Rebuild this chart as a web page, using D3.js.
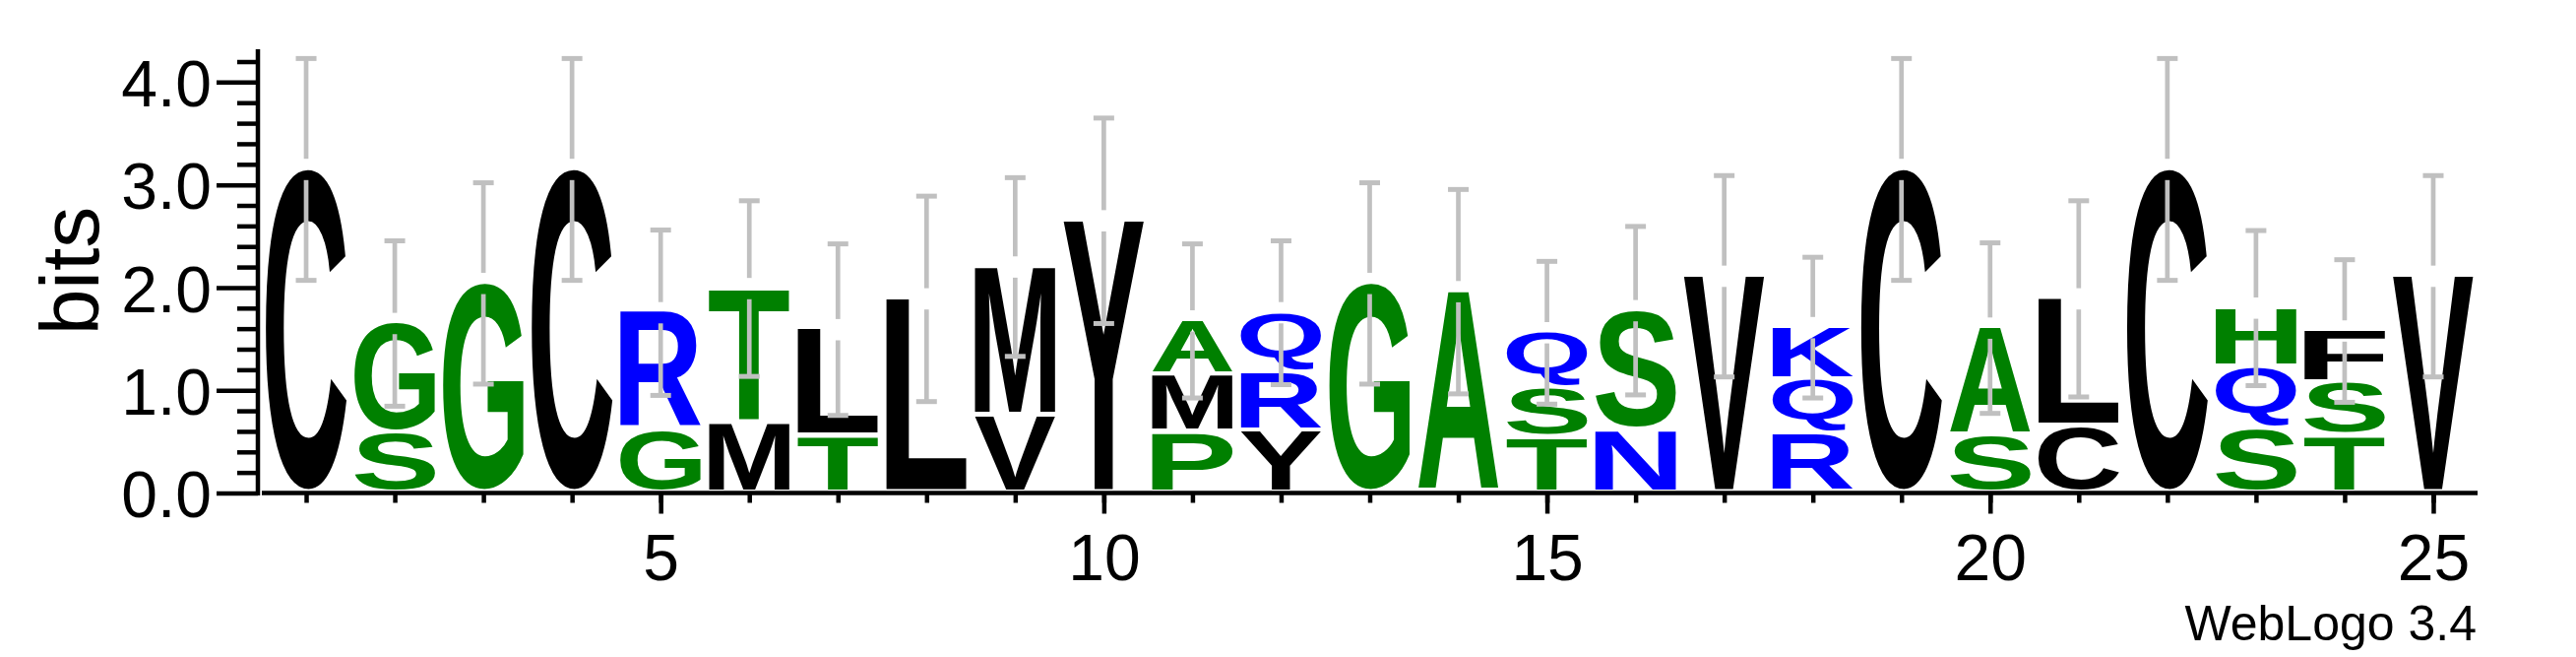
<!DOCTYPE html>
<html>
<head>
<meta charset="utf-8">
<script src="https://cdn.jsdelivr.net/npm/d3@7"></script>
<style>
  body { margin: 0; background: #fff; }
  svg { display: block; background: #fff; }
  text { font-family: "Liberation Sans", Arial, Helvetica, sans-serif; }
</style>
</head>
<body>
<svg id="logo" width="2617" height="667"></svg>
<script>
// letters of each stack, bottom to top
const stackLetters = [
  ["C"], ["S", "G"], ["G"], ["C"], ["G", "R"],
  ["M", "T"], ["T", "L"], ["L"], ["V", "M"], ["Y"],
  ["P", "M", "A"], ["Y", "R", "Q"], ["G"], ["A"], ["T", "S", "Q"],
  ["N", "S"], ["V"], ["R", "Q", "K"], ["C"], ["S", "A"],
  ["C", "L"], ["C"], ["S", "Q", "H"], ["T", "S", "F"], ["V"],
];
// height (bits) of each letter, same order
const stackBits = [
  [3.15], [0.575, 1.075], [2.04], [3.15], [0.61, 1.145],
  [0.685, 1.305], [0.547, 1.043], [1.89], [0.75, 1.45], [2.65],
  [0.585, 0.555, 0.535], [0.6, 0.575, 0.58], [2.04], [1.96], [0.535, 0.48, 0.545],
  [0.61, 1.165], [2.11], [0.565, 0.535, 0.51], [3.15], [0.555, 1.05],
  [0.65, 1.24], [3.15], [0.625, 0.6, 0.575], [0.55, 0.52, 0.507], [2.11],
];
// half length of the error bar on top of each stack
const errorBits = [
  1.08, 0.805, 0.98, 1.08, 0.805,
  0.855, 0.835, 1.0, 0.87, 1.0,
  0.75, 0.7, 0.98, 0.995, 0.695,
  0.82, 0.98, 0.685, 1.08, 0.83,
  0.955, 1.08, 0.755, 0.694, 0.98,
];
const greenLetters = ["G", "S", "T", "A", "P", "H"];
const blueLetters = ["R", "Q", "N", "K"];
const blackLetters = ["C", "M", "L", "V", "Y", "F"];
const xTickLabels = [5, 10, 15, 20, 25];
const yTickValues = [0, 1, 2, 3, 4];
const yTickLabels = ["0.0", "1.0", "2.0", "3.0", "4.0"];

const positions = stackLetters.map((_, i) => i + 1);
const yMinorTicks = d3.range(1, 22).map((k) => k / 5).filter((v) => v % 1 !== 0);

function letterColor(ch) {
  if (greenLetters.includes(ch)) return "#008000";
  if (blueLetters.includes(ch)) return "#0000ff";
  return "#000000";
}

const svg = d3.select("#logo");
const x = d3.scaleLinear().domain([0.5, 25.5]).range([266, 2517]);
const y = d3.scaleLinear().domain([0, 4.32]).range([500.5, 50]);
const letterWidth = 82;
const barGray = "#c0c0c0";

// glyph ink bounds, so each letter fills its box like WebLogo does
const glyphFont = "bold 200px 'Liberation Sans'";
const ctx = document.createElement("canvas").getContext("2d");
ctx.font = glyphFont;
function inkBox(ch) {
  const m = ctx.measureText(ch);
  return {
    l: m.actualBoundingBoxLeft,
    r: m.actualBoundingBoxRight,
    a: m.actualBoundingBoxAscent,
    d: m.actualBoundingBoxDescent,
  };
}

const stacks = positions.map((pos, i) => {
  let base = 0;
  const letters = stackLetters[i].map((ch, j) => {
    const bottom = base;
    base += stackBits[i][j];
    return { ch, bottom, top: base };
  });
  return { pos, letters, total: base, err: errorBits[i] };
});

const lettersLayer = svg.append("g").attr("class", "letters");
stacks.forEach((s) => {
  s.letters.forEach((d) => {
    const box = inkBox(d.ch);
    const bx = x(s.pos) - letterWidth / 2;
    const by = y(d.top);
    const bh = y(d.bottom) - 4 - by;
    const sx = letterWidth / (box.l + box.r);
    const sy = bh / (box.a + box.d);
    lettersLayer
      .append("text")
      .attr("transform", `translate(${bx},${by}) scale(${sx},${sy}) translate(${box.l},${box.a})`)
      .attr("font-size", 200)
      .attr("font-weight", "bold")
      .attr("fill", letterColor(d.ch))
      .text(d.ch);
  });
});

// error bars, split around the top of the stack
const errLayer = svg.append("g").attr("class", "errorbars").attr("stroke", barGray);
stacks.forEach((s) => {
  const cx = x(s.pos);
  const yTop = y(s.total + s.err);
  const yBot = y(s.total - s.err);
  const yMid = y(s.total);
  errLayer.append("line").attr("x1", cx).attr("x2", cx).attr("y1", yTop).attr("y2", yMid - 10.8).attr("stroke-width", 4.7);
  errLayer.append("line").attr("x1", cx).attr("x2", cx).attr("y1", yMid + 10.8).attr("y2", yBot).attr("stroke-width", 4.7);
  [yTop, yBot].forEach((yy) => {
    errLayer.append("line").attr("x1", cx - 10.5).attr("x2", cx + 10.5).attr("y1", yy).attr("y2", yy).attr("stroke-width", 5);
  });
});

// y axis
const yMinor = svg.append("g").attr("transform", "translate(262,0)")
  .call(d3.axisLeft(y).tickValues(yMinorTicks).tickSize(21).tickSizeOuter(0).tickFormat(""));
const yMajor = svg.append("g").attr("transform", "translate(262,0)")
  .call(d3.axisLeft(y).tickValues(yTickValues).tickSize(42).tickPadding(5).tickSizeOuter(0)
    .tickFormat((d, i) => yTickLabels[i]));
yMajor.selectAll(".tick text").attr("dy", "0.365em");

// x axis
const xMinor = svg.append("g").attr("transform", "translate(0,500.5)")
  .call(d3.axisBottom(x).tickValues(positions).tickSize(10).tickSizeOuter(0).tickFormat(""));
const xMajor = svg.append("g").attr("transform", "translate(0,500.5)")
  .call(d3.axisBottom(x).tickValues(xTickLabels).tickSize(21).tickPadding(20.5).tickSizeOuter(0));

[yMinor, yMajor, xMinor, xMajor].forEach((g) => {
  g.select(".domain").remove();
  g.selectAll(".tick line").attr("stroke", "#000").attr("stroke-width", 4.5);
  g.selectAll(".tick text")
    .attr("fill", "#000")
    .attr("font-size", 66)
    .attr("font-family", "'Liberation Sans', Arial, sans-serif");
});

svg.append("line").attr("x1", 262).attr("x2", 262).attr("y1", y(4.32)).attr("y2", 503)
  .attr("stroke", "#000").attr("stroke-width", 4.5);
svg.append("line").attr("x1", x(0.5)).attr("x2", x(25.5)).attr("y1", y(0)).attr("y2", y(0))
  .attr("stroke", "#000").attr("stroke-width", 4.7);

svg.append("text")
  .attr("transform", "translate(99.5,275) rotate(-90)")
  .attr("text-anchor", "middle")
  .attr("font-size", 84)
  .attr("fill", "#000")
  .text("bits");

svg.append("text")
  .attr("x", 2516)
  .attr("y", 650)
  .attr("text-anchor", "end")
  .attr("font-size", 50)
  .attr("fill", "#000")
  .text("WebLogo 3.4");
</script>
</body>
</html>
